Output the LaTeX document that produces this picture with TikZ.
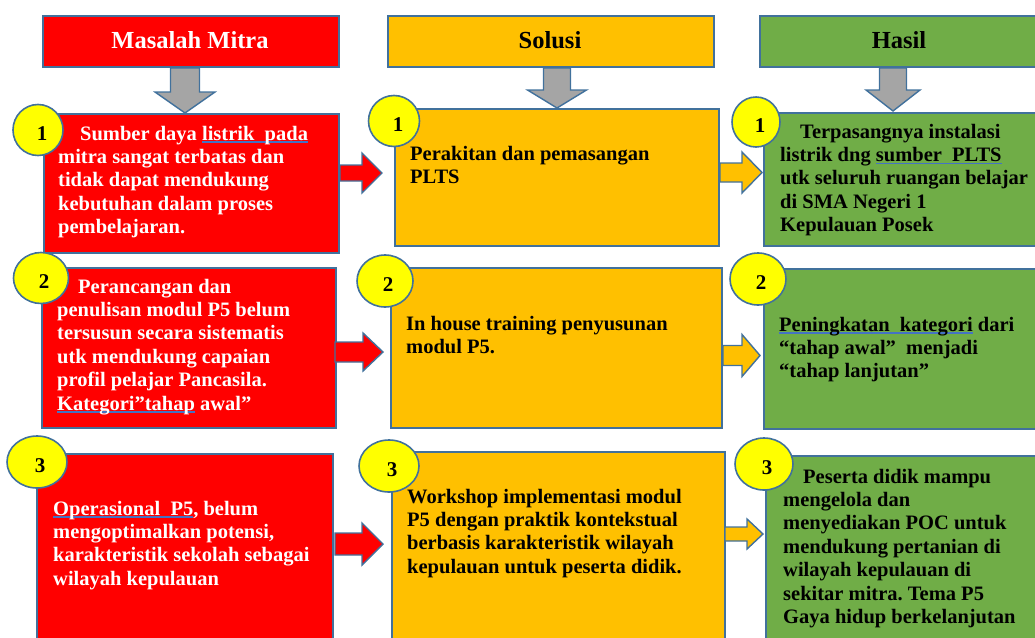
\documentclass[tikz,border=0pt]{standalone}
\usepackage{fontspec}
\setmainfont{Liberation Serif}
\usetikzlibrary{shapes.geometric}
\frenchspacing
\definecolor{bord}{RGB}{65,113,156}
\definecolor{cred}{RGB}{255,0,0}
\definecolor{corange}{RGB}{255,192,0}
\definecolor{cgreen}{RGB}{112,173,71}
\definecolor{cyel}{RGB}{255,255,0}
\definecolor{cgray}{RGB}{165,165,165}
\definecolor{ulblue}{RGB}{68,114,196}
\newlength\ullen
\newcommand\myul[1]{\settowidth\ullen{#1}\rlap{\color{ulblue}\rule[-2.5pt]{\ullen}{1.2pt}}#1}
\newcommand\bodyfont{\fontsize{20.5}{23.4}\selectfont\bfseries\frenchspacing}
\tikzset{
  box/.style={draw=bord, line width=1.8pt, anchor=north west, inner sep=0pt},
  numc/.style={ellipse, draw=bord, line width=1.6pt, fill=cyel, inner sep=0pt},
  numt/.style={anchor=base, inner sep=0pt, font=\fontsize{21}{24}\selectfont\bfseries},
  txt/.style={anchor=north west, yshift=16.38pt, inner sep=0pt, align=left, font=\bodyfont, execute at begin node=\strut},
  head/.style={anchor=base, inner sep=0pt, font=\fontsize{24.5}{28}\selectfont\bfseries},
  blockarrow/.style={draw=bord, line width=1.4pt, line join=miter},
}
% down arrow: cx, top, headY, tip, shaft half, head half
\newcommand\garrow[6]{%
  \draw[blockarrow, fill=cgray] ({#1-#5},#2) -- ({#1+#5},#2) -- ({#1+#5},#3) -- ({#1+#6},#3)
    -- (#1,#4) -- ({#1-#6},#3) -- ({#1-#5},#3) -- cycle;}
% right arrow: x0, xhead, xtip, yc, shaft half, head half, fill
\newcommand\rarrow[7]{%
  \draw[blockarrow, fill=#7] (#1,{#4-#5}) -- (#2,{#4-#5}) -- (#2,{#4-#6}) -- (#3,#4)
    -- (#2,{#4+#6}) -- (#2,{#4+#5}) -- (#1,{#4+#5}) -- cycle;}
\begin{document}
\begin{tikzpicture}[x=1pt,y=-1pt]
\useasboundingbox (0,0) rectangle (1035,637);
\clip (0,0) rectangle (1035,637);
% headers
\node[box, fill=cred, minimum width=296pt, minimum height=51pt] (h1) at (42,15) {};
\node[box, fill=corange, minimum width=326pt, minimum height=51pt] (h2) at (387,15) {};
\node[box, fill=cgreen, minimum width=281pt, minimum height=51pt] (h3) at (759,15) {};
\node[head, text=white] (ht1) at (190,48) {Masalah Mitra};
\node[head] (ht2) at (550,48) {Solusi};
\node[head] (ht3) at (899,48) {Hasil};
% gray down arrows
\garrow{185}{68}{92}{113}{14.5}{30}
\garrow{557}{68}{90}{108}{13.5}{29.5}
\garrow{893}{68}{90}{111}{13.5}{27}
% boxes
\node[box, fill=cred, minimum width=295pt, minimum height=139pt] (r1) at (43,113) {};
\node[box, fill=cred, minimum width=294pt, minimum height=160pt] (r2) at (41,267) {};
\node[box, fill=cred, minimum width=296pt, minimum height=207pt] (r3) at (36,453) {};
\node[box, fill=corange, minimum width=324pt, minimum height=137pt] (o1) at (394,108) {};
\node[box, fill=corange, minimum width=331pt, minimum height=160pt] (o2) at (390,267) {};
\node[box, fill=corange, minimum width=333pt, minimum height=207pt] (o3) at (391,451) {};
\node[box, fill=cgreen, minimum width=282pt, minimum height=133pt] (g1) at (763,112) {};
\node[box, fill=cgreen, minimum width=282pt, minimum height=160pt] (g2) at (763,268) {};
\node[box, fill=cgreen, minimum width=280pt, minimum height=207pt] (g3) at (765,455) {};
% right arrows
\rarrow{340}{362}{382}{173}{8}{20}{cred}
\rarrow{335}{363}{383}{352}{10}{19}{cred}
\rarrow{335}{362}{383}{544}{11}{21}{cred}
\rarrow{720}{742}{762}{172.5}{9.5}{20.5}{corange}
\rarrow{723}{742}{760}{355.5}{10}{21}{corange}
\rarrow{725}{747}{763}{534}{7}{15}{corange}
% number circles
\node[numc, minimum width=50pt, minimum height=51pt] (cr1) at (38,130) {};
\node[numc, minimum width=55pt, minimum height=51pt] (cr2) at (41,278) {};
\node[numc, minimum width=60pt, minimum height=52pt] (cr3) at (37,462) {};
\node[numc, minimum width=51pt, minimum height=51pt] (co1) at (394,121) {};
\node[numc, minimum width=56pt, minimum height=52pt] (co2) at (385,281) {};
\node[numc, minimum width=60pt, minimum height=52pt] (co3) at (389,466) {};
\node[numc, minimum width=48pt, minimum height=50pt] (cg1) at (756,122) {};
\node[numc, minimum width=56pt, minimum height=52pt] (cg2) at (758,279) {};
\node[numc, minimum width=58pt, minimum height=52pt] (cg3) at (764,464) {};
\node[numt] (nr1) at (42,140) {1};
\node[numt] (nr2) at (44,288) {2};
\node[numt] (nr3) at (40,472) {3};
\node[numt] (no1) at (398,131) {1};
\node[numt] (no2) at (388,291) {2};
\node[numt] (no3) at (392,476) {3};
\node[numt] (ng1) at (760,132) {1};
\node[numt] (ng2) at (761,289) {2};
\node[numt] (ng3) at (767,474) {3};
% texts
\node[txt, text=white] (tr1) at (58,142) {\hspace*{22pt}Sumber daya \myul{listrik\ \ pada}\\mitra sangat terbatas dan\\tidak dapat mendukung\\kebutuhan dalam proses\\pembelajaran.};
\node[txt, text=white] (tr2) at (57,295) {\hspace*{21pt}Perancangan dan\\penulisan modul P5 belum\\tersusun secara sistematis\\utk mendukung capaian\\profil pelajar Pancasila.\\\myul{Kategori”tahap} awal”};
\node[txt, text=white] (tr3) at (53,517) {\myul{Operasional\ \ P5}, belum\\mengoptimalkan potensi,\\karakteristik sekolah sebagai\\wilayah kepulauan};
\node[txt] (to1) at (410,162) {Perakitan dan pemasangan\\PLTS};
\node[txt] (to2) at (406,332) {In house training penyusunan\\modul P5.};
\node[txt] (to3) at (407,505) {Workshop implementasi modul\\P5 dengan praktik kontekstual\\berbasis karakteristik wilayah\\kepulauan untuk peserta didik.};
\begin{scope}
\clip (763,112) rectangle (1035,235);
\node[txt] (tg1) at (780,140) {\hspace*{20pt}Terpasangnya instalasi\\listrik dng \myul{sumber\ \ PLTS}\\utk seluruh ruangan belajar\\di SMA Negeri 1\\Kepulauan Posek};
\end{scope}
\node[txt] (tg2) at (779,333) {\myul{Peningkatan\ \ kategori} dari\\“tahap awal”\ \ menjadi\\“tahap lanjutan”};
\node[txt] (tg3) at (783,485) {\hspace*{20pt}Peserta didik mampu\\mengelola dan\\menyediakan POC untuk\\mendukung pertanian di\\wilayah kepulauan di\\sekitar mitra. Tema P5\\Gaya hidup berkelanjutan};
\end{tikzpicture}
\end{document}
